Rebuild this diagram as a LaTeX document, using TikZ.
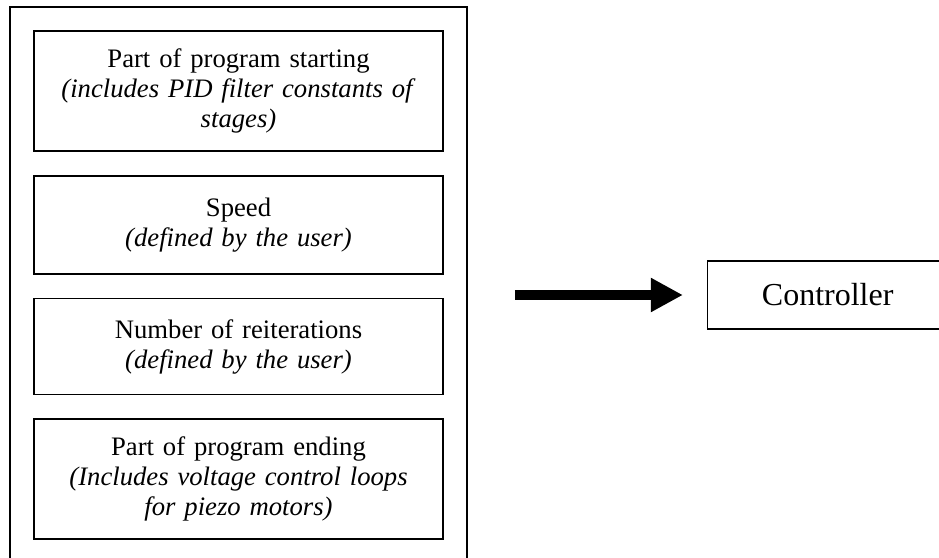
\documentclass[tikz,border=0pt]{standalone}
\usepackage{fontspec}
\setmainfont{Liberation Serif}
\usetikzlibrary{arrows.meta,positioning}

\begin{document}
\begin{tikzpicture}[
    font=\fontsize{12}{13.5}\selectfont,
    frame/.style={rectangle,draw,line width=0.8pt,minimum width=205.65pt,minimum height=259.2pt,inner sep=0pt},
    part/.style={rectangle,draw,line width=0.8pt,minimum width=184.05pt,text width=178pt,align=center,inner sep=0pt},
    ctrl/.style={rectangle,draw,line width=0.7pt,minimum width=108pt,minimum height=30.6pt,font=\fontsize{14.4}{17}\selectfont},
    feed/.style={-{Triangle[length=14.4pt,width=14.4pt]},line width=4.5pt,shorten <=21.15pt,shorten >=10.8pt},
    node distance=10.35pt,
]
\useasboundingbox (0,0) rectangle (422.55pt,-251.1pt);

% ---- program sections (frame runs past the bottom edge) ----
\node[frame] (prog) at (107.33pt,-132.75pt) {};
\node[part,minimum height=54pt,below=10.8pt of prog.north] (start)
   {Part of program starting\\ \textit{(includes PID filter constants of}\\ \textit{stages)}};
\node[part,minimum height=44.1pt,below=of start] (speed)
   {Speed\\ \textit{(defined by the user)}};
\node[part,minimum height=43.2pt,below=of speed] (iter)
   {Number of reiterations\\ \textit{(defined by the user)}};
\node[part,minimum height=54pt,below=of iter] (ending)
   {Part of program ending\\ \textit{(Includes voltage control loops}\\ \textit{for piezo motors)}};

% ---- controller (cut at the right edge) ----
\node[ctrl,right=107.55pt of prog] (cont) {Controller};

\draw[feed] (prog) -- (cont);
\end{tikzpicture}
\end{document}
